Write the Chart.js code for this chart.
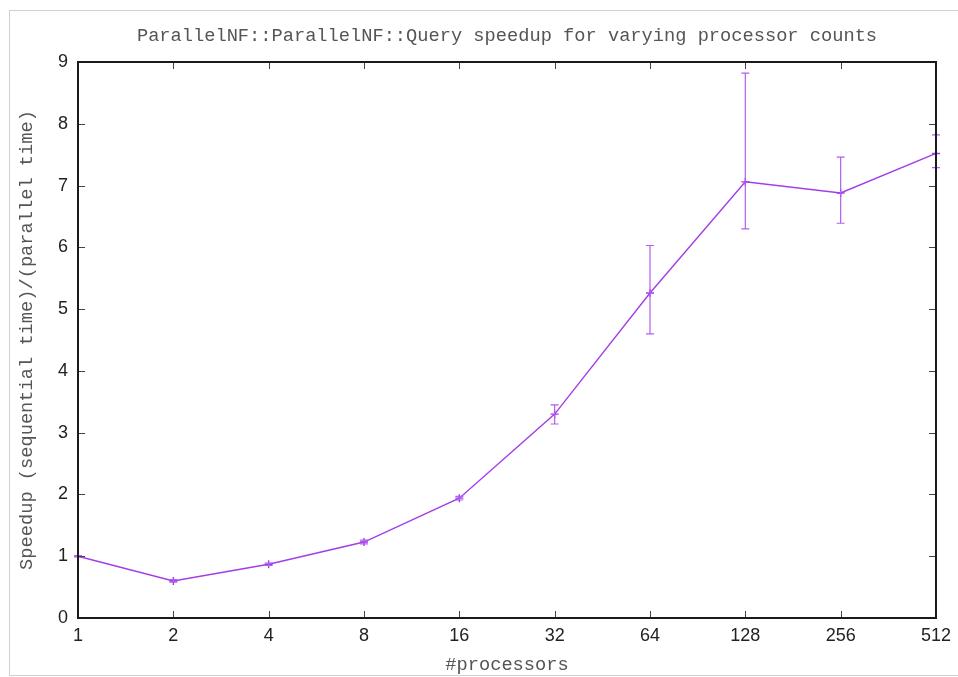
<!DOCTYPE html>
<html>
<head>
<meta charset="utf-8">
<script src="https://cdn.jsdelivr.net/npm/chart.js@4.4.1/dist/chart.umd.min.js"></script>
<style>
	body { margin: 0; background: #fff; overflow: hidden; }
	#wrap { position: relative; width: 958px; height: 677px; }
	#frame { position: absolute; left: 9px; top: 10px; width: 970px; height: 664px; border: 1px solid #d0d0d0; }
	#speedupChart { position: absolute; left: 0; top: 0; }
</style>
</head>
<body>
<div id="wrap">
	<div id="frame"></div>
	<canvas id="speedupChart" width="958" height="677"></canvas>
</div>
<script>
// processor counts on the x axis (log2 steps)
var procCounts = ['1', '2', '4', '8', '16', '32', '64', '128', '256', '512'];
// mean speedup per processor count
var speedup = [1.0, 0.60, 0.87, 1.23, 1.94, 3.30, 5.26, 7.06, 6.88, 7.52];
// error bar ends
var errLow  = [0.99, 0.58, 0.85, 1.20, 1.91, 3.14, 4.60, 6.30, 6.39, 7.29];
var errHigh = [1.01, 0.62, 0.89, 1.26, 1.97, 3.45, 6.03, 8.82, 7.46, 7.82];

var chartTitle = 'ParallelNF::ParallelNF::Query speedup for varying processor counts';

var monoFont = { family: '"Liberation Mono", "DejaVu Sans Mono", monospace', size: 18.7, weight: 'normal' };
var tickFont = { family: '"Liberation Sans", Arial, sans-serif', size: 18 };

// vertical error bars with caps, drawn from errLow/errHigh
var errorBars = {
	id: 'errorBars',
	afterDatasetsDraw: function(chart) {
		var ctx = chart.ctx;
		var xs = chart.scales.x, ys = chart.scales.y;
		ctx.save();
		ctx.strokeStyle = '#b15ff0';
		ctx.lineWidth = 1.2;
		for (var i = 0; i < speedup.length; i++) {
			var x = xs.getPixelForValue(i);
			var y1 = ys.getPixelForValue(errLow[i]);
			var y2 = ys.getPixelForValue(errHigh[i]);
			ctx.beginPath();
			ctx.moveTo(x, y1); ctx.lineTo(x, y2);
			ctx.moveTo(x - 4, y1); ctx.lineTo(x + 4, y1);
			ctx.moveTo(x - 4, y2); ctx.lineTo(x + 4, y2);
			ctx.stroke();
		}
		ctx.restore();
	}
};

// gnuplot style box with inward ticks on all four sides, title centred over the plot
var boxTicks = {
	id: 'boxTicks',
	afterDraw: function(chart) {
		var ctx = chart.ctx;
		var a = chart.chartArea;
		var xs = chart.scales.x, ys = chart.scales.y;
		var len = 7;
		ctx.save();
		ctx.strokeStyle = '#444';
		ctx.lineWidth = 1;
		ctx.beginPath();
		ys.ticks.forEach(function(t, i) {
			var y = Math.round(ys.getPixelForTick(i)) + 0.5;
			ctx.moveTo(a.left, y); ctx.lineTo(a.left + len, y);
			ctx.moveTo(a.right, y); ctx.lineTo(a.right - len, y);
		});
		xs.ticks.forEach(function(t, i) {
			var x = Math.round(xs.getPixelForTick(i)) + 0.5;
			ctx.moveTo(x, a.bottom); ctx.lineTo(x, a.bottom - len);
			ctx.moveTo(x, a.top); ctx.lineTo(x, a.top + len);
		});
		ctx.stroke();
		ctx.strokeStyle = '#1a1a1a';
		ctx.lineWidth = 2;
		ctx.strokeRect(a.left, a.top, a.right - a.left, a.bottom - a.top);

		ctx.fillStyle = '#555';
		ctx.font = monoFont.size + 'px ' + monoFont.family;
		ctx.textAlign = 'center';
		ctx.textBaseline = 'middle';
		ctx.fillText(chartTitle, (a.left + a.right) / 2, 36);
		ctx.restore();
	}
};

var ctx = document.getElementById('speedupChart').getContext('2d');
window.speedupChart = new Chart(ctx, {
	type: 'line',
	data: {
		labels: procCounts,
		datasets: [{
			label: 'speedup',
			data: speedup,
			borderColor: '#a33de6',
			backgroundColor: '#a33de6',
			borderWidth: 1.4,
			pointStyle: 'cross',
			pointRadius: 4,
			pointBorderWidth: 1.4,
			tension: 0,
			clip: false
		}]
	},
	options: {
		responsive: false,
		animation: false,
		layout: { padding: { left: 0, right: 22, top: 62, bottom: 0 } },
		plugins: {
			legend: { display: false },
			tooltip: { enabled: false },
			title: { display: false }
		},
		scales: {
			x: {
				type: 'category',
				offset: false,
				grid: { display: false, drawTicks: false },
				border: { display: false },
				ticks: { color: '#222', font: tickFont, padding: 7, maxRotation: 0 },
				title: {
					display: true,
					text: '#processors',
					color: '#555',
					font: monoFont,
					padding: { top: 0, bottom: 0.8 }
				},
				afterFit: function(scale) { scale.height = 59; }
			},
			y: {
				min: 0,
				max: 9,
				grid: { display: false, drawTicks: false },
				border: { display: false },
				ticks: { stepSize: 1, color: '#222', font: tickFont, padding: 10 },
				title: {
					display: true,
					text: 'Speedup (sequential time)/(parallel time)',
					color: '#555',
					font: monoFont,
					padding: { top: 15.8, bottom: 0 }
				},
				afterFit: function(scale) { scale.width = 78; }
			}
		}
	},
	plugins: [errorBars, boxTicks]
});
</script>
</body>
</html>
